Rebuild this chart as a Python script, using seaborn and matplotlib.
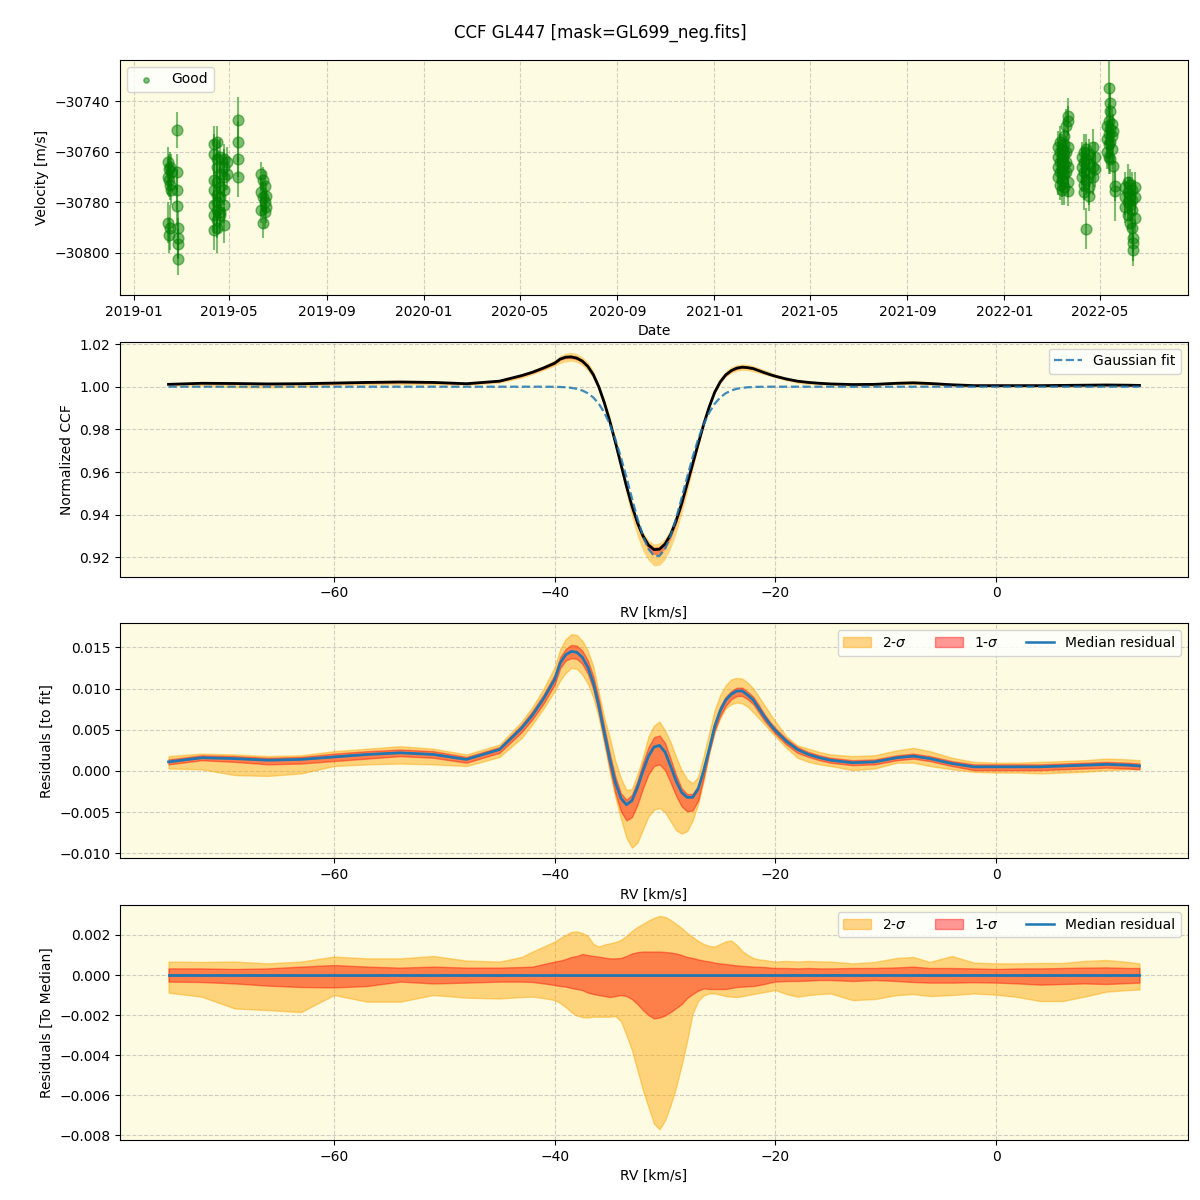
import numpy as np
import pandas as pd
import seaborn as sns
import matplotlib.pyplot as plt
import matplotlib.dates as mdates
from matplotlib.patches import Patch
from matplotlib.lines import Line2D

# ---- velocity time series ----
obs_dates = (
    ["2019-02-13", "2019-02-14", "2019-02-14", "2019-02-15", "2019-02-15", "2019-02-15",
     "2019-02-16", "2019-02-16", "2019-02-16", "2019-02-17", "2019-02-17",
     "2019-02-25", "2019-02-25", "2019-02-25", "2019-02-25",
     "2019-02-26", "2019-02-26", "2019-02-26", "2019-02-26"]
    + ["2019-04-12"] * 7 + ["2019-04-16"] * 9 + ["2019-04-20"] * 6
    + ["2019-04-25"] * 6 + ["2019-04-29"] * 2 + ["2019-05-13"] * 4
    + ["2019-06-11"] * 3 + ["2019-06-13"] * 3 + ["2019-06-15"] * 3 + ["2019-06-17"] * 2
    + ["2022-03-10"] * 4 + ["2022-03-12"] * 5 + ["2022-03-14"] * 5
    + ["2022-03-17"] * 6 + ["2022-03-20"] * 4 + ["2022-03-22"] * 6
    + ["2022-04-08"] * 3 + ["2022-04-11"] * 5 + ["2022-04-14"] * 4
    + ["2022-04-18"] * 5 + ["2022-04-22"] * 3 + ["2022-04-25"] * 2
    + ["2022-05-10"] * 3 + ["2022-05-12"] * 5 + ["2022-05-14"] * 5
    + ["2022-05-16"] * 3 + ["2022-05-18"] * 2 + ["2022-05-20"] * 2
    + ["2022-06-02"] * 3 + ["2022-06-05"] * 4 + ["2022-06-08"] * 4
    + ["2022-06-10"] * 4 + ["2022-06-12"] * 3 + ["2022-06-14"] * 3
)
obs_rv = [
    -30764, -30770, -30788, -30767, -30771, -30793, -30766, -30773, -30790, -30768, -30775,
    -30751.5, -30768, -30775, -30781.5, -30790, -30794, -30796.5, -30802.5,
    -30757, -30761, -30771, -30775, -30781, -30785, -30791,
    -30756, -30763, -30766, -30772, -30777, -30780, -30783, -30787, -30790,
    -30762, -30769, -30774, -30778, -30784, -30785,
    -30763, -30766, -30770, -30775, -30781, -30789,
    -30764, -30769,
    -30747.5, -30756, -30763, -30770,
    -30769, -30776, -30783, -30771, -30778, -30788, -30773.5, -30780, -30784, -30777.5, -30782,
    -30758, -30762, -30766, -30770,
    -30756, -30760, -30764, -30768, -30773,
    -30759, -30763, -30767, -30771, -30775,
    -30754, -30757, -30761, -30765, -30769, -30774,
    -30750, -30760, -30764, -30768,
    -30746, -30748, -30758, -30766, -30772, -30775.5,
    -30762, -30766, -30770,
    -30760, -30764, -30768, -30773, -30776,
    -30759, -30763, -30771, -30790.4,
    -30761, -30765, -30769, -30774, -30777.5,
    -30758, -30766, -30770,
    -30762, -30767,
    -30750, -30755, -30760,
    -30734.7, -30748, -30753, -30757, -30762,
    -30740.7, -30744, -30751, -30756, -30763,
    -30749, -30754, -30759,
    -30752, -30765.7,
    -30773.6, -30775.5,
    -30774, -30778, -30782,
    -30772, -30776, -30780, -30785,
    -30773, -30777, -30781, -30788,
    -30775, -30779, -30783, -30790,
    -30794, -30796, -30799,
    -30774, -30778, -30786,
]
obs_err = [
    6, 7, 8, 6, 7, 7, 6, 6, 9, 7, 6,
    7, 7, 8, 8, 7, 8, 6, 6,
    7, 8, 6, 7, 6, 7, 8,
    6, 7, 6, 9, 7, 8, 9, 7, 10,
    7, 6, 8, 7, 6, 7,
    6, 7, 8, 6, 7, 7,
    6, 6,
    9, 8, 7, 8,
    5, 6, 5, 5, 6, 6, 6, 5, 6, 5, 6,
    6, 7, 6, 7,
    6, 7, 6, 7, 6,
    6, 7, 6, 7, 6,
    7, 6, 6, 7, 6, 7,
    7, 6, 7, 6,
    7, 6, 6, 7, 6, 6,
    6, 7, 6,
    7, 6, 7, 6, 7,
    6, 7, 6, 8,
    6, 7, 6, 7, 6,
    7, 6, 7,
    6, 7,
    7, 6, 7,
    11, 7, 6, 7, 7,
    8, 7, 6, 7, 6,
    6, 7, 6,
    7, 8,
    6, 12,
    6, 7, 6,
    7, 6, 7, 6,
    6, 7, 6, 7,
    7, 6, 7, 6,
    6, 7, 6,
    6, 7, 6,
]

# ---- CCF profile on an RV grid (km/s) ----
rv = [-75, -72, -69, -66, -63, -60, -57, -54, -51, -48, -45, -43, -42, -41,
      -40, -39.5, -39, -38.5, -38, -37.5, -37, -36.5, -36, -35.5,
      -35, -34.5, -34, -33.5, -33, -32.5, -32, -31.5, -31, -30.5,
      -30, -29.5, -29, -28.5, -28, -27.5, -27, -26.5, -26, -25.5,
      -25, -24.5, -24, -23.5, -23, -22.5, -22, -21.5, -21, -20.5, -20,
      -19, -18, -17, -16, -15, -13, -11, -9, -7.5, -6,
      -4, -2, 0, 2, 4, 6, 8, 10, 12, 13]

gauss_fit = [1.0, 1.0, 1.0, 1.0, 1.0, 1.0, 1.0, 1.0, 1.0, 1.0, 1.0, 1.0, 1.0, 1.0,
             0.99994, 0.99987, 0.99973, 0.99947, 0.9990, 0.99821, 0.99693, 0.99493, 0.99198, 0.98784,
             0.98231, 0.97531, 0.96694, 0.95755, 0.94773, 0.93825, 0.93003, 0.92395, 0.92071, 0.92071,
             0.92395, 0.93003, 0.93825, 0.94773, 0.95755, 0.96694, 0.97531, 0.98231, 0.98784, 0.99198,
             0.99493, 0.99693, 0.99821, 0.9990, 0.99947, 0.99973, 0.99987, 0.99994, 0.99997, 1.0, 1.0,
             1.0, 1.0, 1.0, 1.0, 1.0, 1.0, 1.0, 1.0, 1.0, 1.0,
             1.0, 1.0, 1.0, 1.0, 1.0, 1.0, 1.0, 1.0, 1.0, 1.0]

# residuals to the fit, units of 1e-4
res_med = [11, 16, 15, 13, 14, 17, 20, 22, 20, 14, 26, 52, 68, 88,
           111, 131, 141, 145, 144, 138, 126, 107, 79, 46,
           14, -14, -33, -41, -36, -20, 0, 18, 29, 31,
           23, 6, -12, -26, -32, -32, -22, 0, 26, 54,
           73, 86, 93, 97, 97, 92, 86, 76, 66, 57, 49,
           36, 26, 20, 16, 13, 10, 11, 16, 18, 15,
           9, 5, 5, 5, 5, 6, 7, 8, 7, 6]
res_2hi = [18, 21, 20, 18, 19, 24, 27, 30, 27, 20, 32, 60, 78, 100,
           126, 148, 160, 166, 165, 158, 146, 127, 95, 64,
           40, 12, -9, -23, -22, -4, 17, 42, 55, 60,
           49, 35, 17, 1, -10, -15, -7, 18, 46, 74,
           92, 104, 111, 113, 112, 107, 100, 90, 80, 70, 60,
           42, 31, 27, 23, 20, 18, 19, 25, 28, 24,
           16, 11, 10, 10, 11, 12, 13, 15, 14, 13]
res_2lo = [3, 2, -5, -6, -3, 6, 8, 9, 8, 6, 17, 40, 57, 76,
           97, 110, 119, 125, 124, 117, 106, 89, 64, 32,
           -2, -32, -58, -81, -93, -87, -71, -55, -47, -45,
           -50, -61, -72, -76, -73, -60, -40, -12, 22, 47,
           64, 76, 81, 83, 82, 78, 71, 64, 57, 49, 42,
           28, 16, 11, 8, 6, 1, 3, 10, 10, 6,
           2, -1, -2, -2, -3, -2, -1, 1, 2, 2]
sig1_up = [3, 3, 3, 3, 3, 4, 4, 4, 4, 3, 3, 4, 5, 5,
           6, 7, 7, 8, 8, 8, 8, 8, 8, 7,
           7, 7, 6, 6, 7, 8, 10, 11, 12, 12,
           11, 9, 7, 5, 4, 4, 4, 5, 5, 5,
           5, 4, 4, 4, 4, 4, 4, 4, 3, 3, 3,
           3, 3, 3, 3, 3, 3, 3, 3, 3, 3,
           3, 3, 3, 3, 3, 3, 3, 3, 3, 3]
sig1_dn = [3, 3, 4, 5, 5, 5, 5, 4, 4, 4, 4, 5, 5, 6,
           6, 6, 7, 8, 8, 8, 8, 8, 9, 10,
           11, 13, 16, 19, 20, 21, 21, 22, 23, 23,
           22, 20, 18, 17, 17, 16, 14, 8, 4, 5,
           6, 7, 6, 6, 6, 5, 5, 5, 5, 4, 4,
           4, 4, 3, 3, 3, 3, 3, 3, 3, 3,
           3, 4, 4, 4, 4, 4, 4, 4, 4, 4]

# residuals to the median, units of 1e-3
med_2hi = [0.67, 0.65, 0.67, 0.58, 0.67, 0.92, 0.83, 0.83, 0.95, 0.72, 0.67, 0.90, 1.17, 1.42,
           1.67, 1.85, 2.00, 2.15, 2.17, 2.10, 1.95, 1.55, 1.42, 1.52,
           1.58, 1.65, 1.75, 1.95, 2.20, 2.40, 2.55, 2.72, 2.85, 2.95,
           2.90, 2.75, 2.55, 2.35, 2.10, 1.90, 1.70, 1.55, 1.45, 1.42,
           1.55, 1.68, 1.72, 1.50, 1.20, 1.00, 0.85, 0.78, 0.75, 0.70, 0.67,
           0.70, 0.67, 0.70, 0.68, 0.67, 0.58, 0.65, 0.85, 0.90, 0.65,
           0.95, 0.62, 0.58, 0.58, 0.60, 0.60, 0.70, 0.75, 0.65, 0.58]
med_1hi = [0.33, 0.33, 0.30, 0.33, 0.42, 0.50, 0.42, 0.37, 0.42, 0.37, 0.37, 0.40, 0.42, 0.55,
           0.67, 0.72, 0.80, 0.90, 0.95, 1.05, 1.00, 0.95, 0.92, 0.87,
           0.83, 0.83, 0.85, 0.95, 1.08, 1.14, 1.17, 1.17, 1.17, 1.17,
           1.15, 1.12, 1.08, 1.00, 0.90, 0.85, 0.78, 0.72, 0.68, 0.62,
           0.58, 0.55, 0.52, 0.48, 0.46, 0.44, 0.42, 0.41, 0.40, 0.37, 0.35,
           0.35, 0.33, 0.35, 0.33, 0.33, 0.35, 0.35, 0.38, 0.42, 0.35,
           0.35, 0.33, 0.30, 0.33, 0.33, 0.35, 0.37, 0.38, 0.35, 0.35]
med_1lo = [-0.33, -0.35, -0.42, -0.53, -0.60, -0.62, -0.55, -0.33, -0.42, -0.38, -0.33, -0.33, -0.35, -0.42,
           -0.50, -0.55, -0.58, -0.65, -0.70, -0.75, -0.88, -0.95, -1.00, -1.05,
           -1.10, -1.05, -1.00, -1.05, -1.20, -1.45, -1.75, -2.00, -2.17, -2.12,
           -2.02, -1.85, -1.65, -1.45, -1.15, -0.95, -0.78, -0.67, -0.70, -0.70,
           -0.70, -0.70, -0.65, -0.60, -0.58, -0.56, -0.55, -0.50, -0.45, -0.38, -0.33,
           -0.30, -0.30, -0.28, -0.25, -0.25, -0.30, -0.25, -0.30, -0.35, -0.38,
           -0.38, -0.36, -0.38, -0.42, -0.48, -0.45, -0.42, -0.45, -0.40, -0.38]
med_2lo = [-0.88, -1.08, -1.67, -1.75, -1.85, -1.00, -1.33, -1.33, -1.00, -1.13, -1.17, -1.10, -1.08, -1.15,
           -1.25, -1.40, -1.60, -1.85, -2.02, -2.10, -2.12, -2.08, -2.08, -2.08,
           -2.08, -2.05, -2.30, -3.00, -3.75, -4.75, -5.75, -6.60, -7.42, -7.70,
           -7.25, -6.50, -5.60, -4.50, -3.30, -1.92, -1.30, -1.02, -0.92, -0.92,
           -0.98, -1.05, -1.08, -1.10, -1.05, -1.00, -0.95, -0.90, -0.85, -0.80, -0.75,
           -0.95, -1.08, -1.00, -0.95, -0.92, -1.25, -1.20, -1.00, -0.95, -1.05,
           -1.00, -0.92, -0.98, -1.10, -1.30, -1.30, -1.08, -0.83, -0.75, -0.72]

# ---- derived arrays ----
rv = np.array(rv, dtype=float)
fit = np.array(gauss_fit)
r_med = np.array(res_med) * 1e-4
r_2hi = np.array(res_2hi) * 1e-4
r_2lo = np.array(res_2lo) * 1e-4
r_1hi = r_med + np.array(sig1_up) * 1e-4
r_1lo = r_med - np.array(sig1_dn) * 1e-4

bg = "#fdfbe1"
c2 = "orange"
c1 = "red"
a2 = 0.45
a1 = 0.4

fig, axes = plt.subplots(4, 1, figsize=(12, 12), dpi=100)
fig.subplots_adjust(left=0.1, right=0.99, top=0.95, bottom=0.05, hspace=0.2)
fig.suptitle("CCF GL447 [mask=GL699_neg.fits]", y=0.98, fontsize=12)

for ax in axes:
    ax.set_facecolor(bg)
    ax.grid(True, linestyle="--", alpha=0.6)
    ax.set_axisbelow(True)

# top panel: velocities
ax = axes[0]
obs = pd.DataFrame({"date": pd.to_datetime(obs_dates), "rv": obs_rv, "err": obs_err})
ax.errorbar(obs["date"], obs["rv"], yerr=obs["err"], fmt="none",
            ecolor="green", alpha=0.5, elinewidth=1.5)
sns.scatterplot(data=obs, x="date", y="rv", color="green", alpha=0.5, s=60,
                edgecolor="green", linewidth=1, label="Good", ax=ax)
ax.xaxis.set_major_locator(mdates.MonthLocator(bymonth=[1, 5, 9]))
ax.xaxis.set_major_formatter(mdates.DateFormatter("%Y-%m"))
ax.set_xlim(pd.Timestamp("2018-12-15"), pd.Timestamp("2022-08-20"))
ax.set_ylim(-30816.5, -30723.8)
ax.set_xlabel("Date")
ax.set_ylabel("Velocity [m/s]")
ax.legend(loc="upper left", markerscale=0.5)

# second panel: CCF
ax = axes[1]
ax.fill_between(rv, fit + r_2lo, fit + r_2hi, color=c2, alpha=a2, linewidth=0)
ax.fill_between(rv, fit + r_1lo, fit + r_1hi, color=c1, alpha=a1, linewidth=0)
sns.lineplot(x=rv, y=fit + r_med, color="black", linewidth=2, ax=ax)
sns.lineplot(x=rv, y=fit, color="C0", linestyle="--", linewidth=1.6, alpha=0.85,
             ax=ax)
ax.set_xlabel("RV [km/s]")
ax.set_ylabel("Normalized CCF")
ax.legend([Line2D([], [], color="C0", linestyle="--", linewidth=1.6, alpha=0.85)],
          ["Gaussian fit"], loc="upper right")

band_handles = [Patch(facecolor=c2, alpha=a2, edgecolor=c2),
                Patch(facecolor=c1, alpha=a1, edgecolor=c1),
                Line2D([], [], color="C0", linewidth=1.8)]
band_labels = [r"2-$\sigma$", r"1-$\sigma$", "Median residual"]

# third panel: residuals to fit
ax = axes[2]
ax.fill_between(rv, r_2lo, r_2hi, color=c2, alpha=a2)
ax.fill_between(rv, r_1lo, r_1hi, color=c1, alpha=a1)
sns.lineplot(x=rv, y=r_med, color="C0", linewidth=2, ax=ax)
ax.set_xlabel("RV [km/s]")
ax.set_ylabel("Residuals [to fit]")
ax.legend(band_handles, band_labels, loc="upper right", ncol=3)

# bottom panel: residuals to median
ax = axes[3]
m2lo = np.array(med_2lo) * 1e-3
m2hi = np.array(med_2hi) * 1e-3
m1lo = np.array(med_1lo) * 1e-3
m1hi = np.array(med_1hi) * 1e-3
ax.fill_between(rv, m2lo, m2hi, color=c2, alpha=a2)
ax.fill_between(rv, m1lo, m1hi, color=c1, alpha=a1)
sns.lineplot(x=rv, y=np.zeros_like(rv), color="C0", linewidth=2, ax=ax)
ax.set_xlabel("RV [km/s]")
ax.set_ylabel("Residuals [To Median]")
ax.legend(band_handles, band_labels, loc="upper right", ncol=3)

for ax in axes[1:]:
    ax.set_xlim(-79.4, 17.4)

fig.savefig("out.png", dpi=100)
